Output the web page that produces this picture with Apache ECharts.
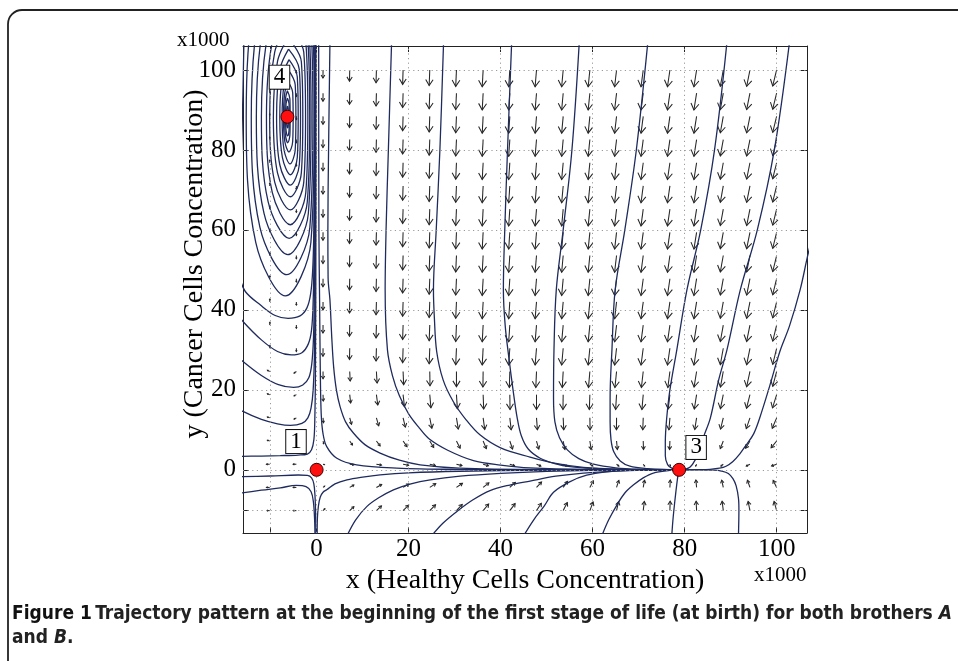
<!DOCTYPE html>
<html><head><meta charset="utf-8">
<script src="https://cdn.jsdelivr.net/npm/echarts@6/dist/echarts.min.js"></script>
<style>html,body{margin:0;padding:0;background:#fff}#c{width:958px;height:661px}</style>
</head><body><div id="c"></div>
<script>
// ---------- data (units: x1000 cells) ----------
const gridTicks = [-10, 0, 20, 40, 60, 80, 100];
const tickLabels = [0, 20, 40, 60, 80, 100];

const quiverX = [-10.2, -4.4, 1.4, 7.2, 13, 18.8, 24.6, 30.4, 36.2, 42, 47.8, 53.6, 59.4, 65.2, 71, 76.8, 82.6, 88.4, 94.2, 100];
const quiverY = [-10.2, -4.4, 1.4, 7.2, 13, 18.8, 24.6, 30.4, 36.2, 42, 47.8, 53.6, 59.4, 65.2, 71, 76.8, 82.6, 88.4, 94.2, 100];

// drawn arrow components per row (dx in x units, dy in y units)
const uRowM10 = [-0.6, -0.7, 0.4, 0.9, 1.1, 1.2, 1.25, 1.25, 1.2, 1.15, 1.05, 0.9, 0.7, 0.45, 0.25, 0.05, -0.1, -0.25, -0.4, -0.55];
const vRowM10 = [0, 0, 0.5, 1.0, 1.2, 1.35, 1.45, 1.55, 1.65, 1.75, 1.85, 2.0, 2.15, 2.25, 2.3, 2.35, 2.35, 2.35, 2.3, 2.3];
const uRowM4 = [-0.7, -0.7, 0.35, 0.9, 1.15, 1.25, 1.3, 1.3, 1.25, 1.2, 1.1, 0.95, 0.75, 0.5, 0.3, 0.08, -0.15, -0.35, -0.55, -0.75];
const vRowM4 = [0, 0, 0.3, 0.6, 0.75, 0.85, 0.95, 1.05, 1.15, 1.25, 1.35, 1.5, 1.65, 1.75, 1.8, 1.85, 1.85, 1.8, 1.8, 1.75];
const uRow1 = [-0.7, -0.7, 0.3, 0.9, 1.1, 1.2, 1.2, 1.2, 1.15, 1.05, 0.95, 0.8, 0.65, 0.5, 0.3, 0.1, -0.2, -0.5, -0.8, -1.1];
const vRow1 = [0, 0, -0.1, -0.15, -0.2, -0.25, -0.3, -0.35, -0.4, -0.4, -0.45, -0.45, -0.45, -0.45, -0.45, -0.45, -0.45, -0.45, -0.45, -0.45];
const uRow7 = [-0.5, -0.5, 0.15, 0.6, 0.8, 0.85, 0.85, 0.8, 0.7, 0.6, 0.5, 0.38, 0.28, 0.18, 0.06, -0.08, -0.35, -0.65, -0.95, -1.2];
const vRow7 = [0.2, -0.3, -0.7, -1.0, -1.2, -1.4, -1.6, -1.8, -1.9, -2.0, -2.0, -2.1, -2.1, -2.1, -2.1, -2.1, -2.0, -1.9, -1.8, -1.7];
const uRow13 = [-0.5, -0.5, 0.1, 0.4, 0.5, 0.5, 0.45, 0.4, 0.35, 0.3, 0.2, 0.12, 0.05, -0.02, -0.1, -0.22, -0.4, -0.6, -0.8, -0.95];
const vRow13 = [0.2, -0.3, -1.2, -1.6, -2.0, -2.3, -2.6, -2.8, -2.9, -3.0, -3.0, -3.0, -3.0, -3.0, -3.0, -3.0, -2.9, -2.8, -2.7, -2.6];
const uRow19 = [-0.5, -0.5, 0.05, 0.2, 0.3, 0.3, 0.25, 0.2, 0.12, 0.05, 0, -0.05, -0.12, -0.2, -0.28, -0.38, -0.5, -0.62, -0.75, -0.9];
const vRow19 = [0.2, -0.3, -1.6, -2.1, -2.6, -3.0, -3.3, -3.5, -3.6, -3.7, -3.7, -3.7, -3.7, -3.7, -3.7, -3.6, -3.6, -3.5, -3.4, -3.3];
const uRow25 = [-0.5, -0.5, 0, 0.1, 0.15, 0.12, 0.05, 0, -0.05, -0.1, -0.15, -0.2, -0.3, -0.35, -0.4, -0.45, -0.55, -0.62, -0.72, -0.85];
const vRow25 = [0.3, -0.4, -1.8, -2.4, -2.9, -3.3, -3.6, -3.8, -3.9, -4.0, -4.0, -4.0, -4.0, -4.0, -4.0, -4.0, -3.9, -3.9, -3.8, -3.7];
const uRowUpper = [0.05, 0, -0.02, -0.05, -0.08, -0.1, -0.13, -0.16, -0.2, -0.25, -0.3, -0.33, -0.37, -0.42, -0.48, -0.53, -0.58, -0.64, -0.72, -0.85];
const vRowUpper = [0.7, -0.8, -2.0, -2.8, -3.2, -3.6, -3.9, -4.1, -4.2, -4.2, -4.2, -4.2, -4.2, -4.2, -4.2, -4.2, -4.2, -4.1, -4.1, -4.0];
// rows from y=-10.2 upward; every row from y=30.4 to 100 looks alike
const uRows = [uRowM10, uRowM4, uRow1, uRow7, uRow13, uRow19, uRow25].concat(Array(13).fill(uRowUpper));
const vRows = [vRowM10, vRowM4, vRow1, vRow7, vRow13, vRow19, vRow25].concat(Array(13).fill(vRowUpper));

// closed orbits around equilibrium 4
const centerOrbits = [
 [[-6.35,91],[-6.17,90.16],[-6.15,88.2],[-6.17,86.31],[-6.32,85.5],[-6.49,86.31],[-6.55,88.2],[-6.49,90.16],[-6.35,91]],
 [[-6.35,93],[-5.99,91.56],[-5.95,88.2],[-5.99,84.91],[-6.29,83.5],[-6.64,84.91],[-6.75,88.2],[-6.64,91.56],[-6.35,93]],
 [[-6.35,94.8],[-5.81,92.82],[-5.75,88.2],[-5.81,83.72],[-6.26,81.8],[-6.78,83.72],[-6.95,88.2],[-6.78,92.82],[-6.35,94.8]],
 [[-6.15,97],[-5.2,94.36],[-5.1,88.2],[-5.2,82.11],[-5.99,79.5],[-6.91,82.11],[-7.2,88.2],[-6.91,94.36],[-6.15,97]],
 [[-6.0,99.8],[-4.65,96.32],[-4.5,88.2],[-4.65,80.01],[-5.78,76.5],[-7.08,80.01],[-7.5,88.2],[-7.08,96.32],[-6.0,99.8]],
 [[-6.0,102.6],[-4.2,98.28],[-4.0,88.2],[-4.2,78.12],[-5.7,73.8],[-7.44,78.12],[-8.0,88.2],[-7.44,98.28],[-6.0,102.6]],
 [[-6.1,105.2],[-3.76,100.1],[-3.5,88.2],[-3.76,76.3],[-5.71,71.2],[-8.0,76.3],[-8.7,88.2],[-8.0,100.1],[-6.1,105.2]],
 [[-6.2,108.1],[-3.32,102.13],[-3.0,88.2],[-3.32,74.27],[-5.72,68.3],[-8.5,74.27],[-9.4,88.2],[-8.5,102.13],[-6.2,108.1]],
 [[-6.3,111.4],[-2.79,104.44],[-2.4,88.2],[-2.79,71.96],[-5.72,65],[-9.11,71.96],[-10.2,88.2],[-9.11,104.44],[-6.3,111.4]],
 [[-6.4,115.1],[-2.35,107.03],[-1.9,88.2],[-2.35,69.37],[-5.73,61.3],[-9.64,69.37],[-10.9,88.2],[-9.64,107.03],[-6.4,115.1]],
 [[-6.75,118.5],[-2.03,109.41],[-1.5,88.2],[-2.03,66.99],[-5.96,57.9],[-10.53,66.99],[-12.0,88.2],[-10.53,109.41],[-6.75,118.5]],
 [[-7.15,122.6],[-1.8,112.28],[-1.2,88.2],[-1.8,64.12],[-6.26,53.8],[-11.43,64.12],[-13.1,88.2],[-11.43,112.28],[-7.15,122.6]],
 [[-7.5,127.6],[-1.47,115.78],[-0.8,88.2],[-1.47,60.62],[-6.5,48.8],[-12.32,60.62],[-14.2,88.2],[-12.32,115.78],[-7.5,127.6]],
 [[-7.9,133],[-1.24,119.56],[-0.5,88.2],[-1.24,56.91],[-6.79,43.5],[-13.23,56.91],[-15.3,88.2],[-13.23,119.56],[-7.9,133]]
];

// trajectories on the left (x < 0)
const leftCurves = [
 [[-15.8,107],[-16.2,85],[-16.7,68],[-17.3,57],[-16.6,48],[-15.5,44.6],[-12.2,41.2],[-9,38.6],[-6.2,37.9],[-3.6,38.5],[-2.1,40.5],[-1.3,44],[-0.85,50],[-0.6,60],[-0.45,80],[-0.4,107]],
 [[-17.5,39.5],[-16,37.1],[-12,32.5],[-8.5,29.6],[-5.5,28.75],[-3.2,29.3],[-1.8,31.5],[-1.1,35],[-0.75,42],[-0.55,55],[-0.38,80],[-0.33,107]],
 [[-17.5,28.8],[-16,27.1],[-12,23.6],[-8.3,21.3],[-5,20.6],[-3,21.2],[-1.7,23],[-1.05,26.5],[-0.68,33],[-0.48,45],[-0.3,75],[-0.26,107]],
 [[-17.5,15.8],[-16,14.6],[-12,12.6],[-8.5,11.5],[-5.7,11.1],[-3.2,11.6],[-1.9,13],[-1.2,15.5],[-0.75,20],[-0.45,30],[-0.25,60],[-0.2,107]],
 [[-17.5,3.35],[-12,3.45],[-7.9,3.55],[-4,3.7],[-2,3.95],[-1.1,5],[-0.6,7.5],[-0.4,12],[-0.25,25],[-0.15,60],[-0.12,107]],
 [[-17.5,-1.75],[-10,-1.55],[-4,-1.3],[-2,-1.4],[-1.1,-2.0],[-0.6,-3.5],[-0.35,-6.5],[-0.22,-11],[-0.15,-16.5]],
 [[-17.5,-6.0],[-12,-5.1],[-7.9,-4.5],[-4.4,-3.9],[-2.3,-4.2],[-1.2,-5.5],[-0.7,-8],[-0.45,-12],[-0.35,-16.5]]
];

// trajectories coming down from the top towards equilibrium 3
const upperCurves = [
 [[0.45,107],[0.5,60],[0.65,42.5],[0.8,25],[1.0,14],[1.4,9],[2.2,5.8],[4.4,2.9],[8.7,1.25],[17.4,0.45],[31,0.12],[50,0.02],[78.8,0]],
 [[2.9,107],[2.6,80],[2.45,60],[2.5,48],[2.9,42.5],[3.3,33],[3.7,25.8],[4.3,20],[5.1,15.8],[6.3,12],[8,9.2],[10.5,6.3],[13.8,4.2],[18,2.4],[22.5,1.25],[31,0.45],[50,0.08],[78.8,0]],
 [[16.3,107],[15.6,80],[15.1,60],[14.9,45],[15.4,30],[16.5,23.5],[18,18.5],[20,14],[22.3,10.5],[24.5,7.7],[28.5,4.9],[34.1,2.3],[40,1.2],[46.4,0.5],[60,0.1],[78.8,0]],
 [[27.6,107],[26.8,80],[26,60],[25.4,45],[25.6,38],[26.1,29.6],[27.5,22.5],[29.7,17.1],[32.5,12.5],[35.5,8.75],[40,5.5],[46.4,3.2],[52,1.6],[58,0.6],[66,0.15],[78.8,0]],
 [[42.4,107],[41.5,80],[40.9,60],[40.6,45],[41,36],[41.8,28],[42.7,20],[43.6,13],[44.5,8.5],[46,5.2],[48.6,2.9],[52,1.5],[55.1,0.8],[60,0.35],[66,0.12],[78.8,0]],
 [[57.1,107],[55.5,80],[53.6,60],[52.1,45],[51.6,30],[51.5,18],[51.8,12],[52.8,8],[54.5,5],[57,2.8],[60.2,1.4],[65,0.5],[70,0.15],[78.8,0]],
 [[72,107],[69.5,80],[67,60],[64.9,45],[64.2,30],[63.8,18],[63.8,12],[64,7.5],[64.6,4.5],[66,2.2],[68.1,0.9],[72,0.3],[76.8,0.05],[78.8,0]],
 [[89.2,107],[86.5,80],[83.5,60],[80.5,45],[78.3,30],[76.8,20],[76.1,12.9],[75.8,7],[75.8,3.5],[76.3,1.3],[77.3,0.35],[78.8,0]],
 [[102.8,107],[99.5,80],[95.8,60],[92.1,45],[89.2,30],[87.4,22.5],[85.6,13],[84.2,8.5],[83.2,5],[82.3,2.5],[81.2,0.7],[80,0.15],[78.8,0]],
 [[108.5,62],[106.7,53.3],[105.1,45],[102.8,36],[100.7,29.6],[98.5,21],[96.3,12.9],[95,9],[93.4,6.25],[92,4],[90.5,2.1],[89,0.9],[87.6,0.4],[85.5,0.12],[83.3,0.03],[78.8,0]]
];

// trajectories coming up from below
const lowerCurves = [
 [[0.12,-16.5],[0.18,-12],[0.4,-9],[0.8,-6.8],[1.4,-5.6],[2.2,-5],[4,-3.5],[6.6,-2.5],[10,-1.8],[13.8,-1.25],[20,-0.75],[31,-0.35],[50,-0.07],[78.8,0]],
 [[6.6,-16.5],[8.5,-12.5],[10.9,-9.2],[13.5,-7],[16.7,-5],[20.5,-3.5],[24.7,-2.5],[31.2,-1.6],[40,-0.9],[50,-0.4],[60,-0.15],[78.8,0]],
 [[25,-16.5],[27.5,-13.3],[30.5,-10.4],[34,-7.5],[37.7,-5.2],[42,-3.8],[46.4,-2.8],[52,-1.6],[58,-0.8],[65,-0.3],[72,-0.08],[78.8,0]],
 [[45,-16.5],[47.2,-12.5],[49.5,-9],[51.5,-5.6],[55,-3],[58.7,-1.35],[63,-0.5],[68.1,-0.1],[78.8,0]],
 [[62,-16.5],[63.5,-12.5],[65.3,-8.75],[67,-5.8],[68.9,-3.75],[71,-2],[73.2,-0.8],[76.8,-0.15],[78.8,0]],
 [[77.2,-16.5],[77.5,-12],[77.9,-7.5],[78.3,-3.5],[78.6,-1],[78.8,0]],
 [[91.7,-16.5],[91.8,-10],[91.7,-7.1],[91.2,-4],[90.5,-2.2],[89.5,-0.9],[88,-0.3],[86.3,-0.08],[83,0],[78.8,0]]
];

const equilibria = [[0, 0], [78.8, 0], [-6.35, 88.3]];
const pointLabels = [['4', -8.07, 98.2], ['1', -4.48, 7.07], ['3', 82.5, 5.6]];

// ---------- chart ----------
const quiverData = [];
quiverY.forEach((y, j) => quiverX.forEach((x, i) => quiverData.push([x, y, uRows[j][i], vRows[j][i]])));

const serif = "'Liberation Serif', 'Times New Roman', serif";
const capFont = "'Liberation Sans Narrow', 'DejaVu Sans Condensed', sans-serif";
const curveStyle = { color: '#1f2b5e', width: 1.3 };

function renderArrow(params, api) {
  const x = api.value(0), y = api.value(1), u = api.value(2), v = api.value(3);
  const p0 = api.coord([x, y]);
  const p1 = api.coord([x + u, y + v]);
  const dx = p1[0] - p0[0], dy = p1[1] - p0[1];
  const len = Math.hypot(dx, dy);
  if (len < 0.5) return null;
  const ux = dx / len, uy = dy / len;
  const h = len * 0.38, w = h * 0.62;
  const bx = p1[0] - ux * h, by = p1[1] - uy * h;
  const a = [bx - uy * w, by + ux * w], b = [bx + uy * w, by - ux * w];
  const st = { stroke: '#262626', lineWidth: 1.05, fill: null };
  return { type: 'group', children: [
    { type: 'polyline', shape: { points: [p0, p1] }, style: st },
    { type: 'polyline', shape: { points: [a, p1, b] }, style: st }
  ]};
}

function curveSeries(pts) {
  return { type: 'line', data: pts, smooth: 0.35, symbol: 'none', showSymbol: false,
    lineStyle: curveStyle, clip: true, silent: true, z: 3, animation: false };
}

const axisCommon = {
  type: 'value', splitLine: { show: false },
  axisLine: { show: true, onZero: false, lineStyle: { color: '#222', width: 1 } },
  axisTick: { show: true, inside: true, length: 6, customValues: gridTicks, lineStyle: { color: '#222' } }
};

const series = [
  { type: 'scatter', data: [[0, 0]], symbolSize: 0, silent: true, z: 1, animation: false,
    markLine: { silent: true, symbol: ['none', 'none'], label: { show: false }, animation: false,
      lineStyle: { type: [1.2, 3.4], color: '#9a9a9a', width: 1 },
      data: gridTicks.map(v => ({ xAxis: v })).concat(gridTicks.map(v => ({ yAxis: v }))) } },
  { type: 'custom', data: quiverData, renderItem: renderArrow, clip: true, silent: true, z: 2, animation: false }
];
centerOrbits.concat(leftCurves, upperCurves, lowerCurves).forEach(c => series.push(curveSeries(c)));
series.push({ type: 'scatter', data: equilibria, symbolSize: 13, silent: true, z: 5, animation: false,
  itemStyle: { color: '#ff1010', borderColor: '#3a0000', borderWidth: 1, opacity: 1 } });
series.push({ type: 'scatter', data: pointLabels.map(p => [p[1], p[2], p[0]]), symbolSize: 0, silent: true, z: 6, animation: false,
  itemStyle: { opacity: 1 },
  label: { show: true, position: 'inside', formatter: p => p.value[2],
    fontFamily: serif, fontSize: 23, color: '#000', backgroundColor: '#fff', opacity: 1,
    borderColor: '#111', borderWidth: 1, padding: [1, 4, 0, 4], lineHeight: 22 } });

const chart = echarts.init(document.getElementById('c'), null, { renderer: 'canvas' });
chart.setOption({
  animation: false,
  backgroundColor: '#fff',
  grid: { left: 243, top: 46, width: 564, height: 487, containLabel: false },
  xAxis: [
    Object.assign({}, axisCommon, { min: -16, max: 106.6, position: 'bottom',
      axisLabel: { customValues: tickLabels, fontFamily: serif, fontSize: 25, color: '#000', margin: 4 },
      name: 'x (Healthy Cells Concentration)', nameLocation: 'middle', nameGap: 31,
      nameTextStyle: { fontFamily: serif, fontSize: 28, color: '#000' } }),
    Object.assign({}, axisCommon, { min: -16, max: 106.6, position: 'top', axisLabel: { show: false } })
  ],
  yAxis: [
    Object.assign({}, axisCommon, { min: -15.8, max: 106, position: 'left',
      axisLabel: { customValues: tickLabels, fontFamily: serif, fontSize: 25, color: '#000', margin: 7 } }),
    Object.assign({}, axisCommon, { min: -15.8, max: 106, position: 'right', axisLabel: { show: false } })
  ],
  graphic: [
    { type: 'rect', shape: { x: 8, y: 10, width: 1100, height: 800, r: 14 }, style: { fill: 'none', stroke: '#222', lineWidth: 1.8 }, z: 10 },
    { type: 'text', x: 195, y: 264, rotation: Math.PI / 2, z: 10,
      style: { text: 'y (Cancer Cells Concentration)', font: "28px 'Liberation Serif', serif", fill: '#000', align: 'center', verticalAlign: 'middle' } },
    { type: 'text', left: 177, top: 30, style: { text: 'x1000', font: "21px 'Liberation Serif', serif", fill: '#000' }, z: 10 },
    { type: 'text', left: 754, top: 565, style: { text: 'x1000', font: "21px 'Liberation Serif', serif", fill: '#000' }, z: 10 },
    { type: 'text', left: 12, top: 605, z: 10, style: {
      text: '{b|Figure 1} {n|Trajectory pattern at the beginning of the first stage of life (at birth) for both brothers }{i|A}\n{n|and }{i|B}{n|.}',
      rich: {
        b: { fontFamily: capFont, fontWeight: 'bold', fontSize: 19, fill: '#111', lineHeight: 24 },
        n: { fontFamily: capFont, fontWeight: 'bold', fontSize: 19, fill: '#222', lineHeight: 24 },
        i: { fontFamily: capFont, fontWeight: 'bold', fontStyle: 'italic', fontSize: 19, fill: '#222', lineHeight: 24 }
      } } }
  ],
  series: series
});
</script></body></html>
